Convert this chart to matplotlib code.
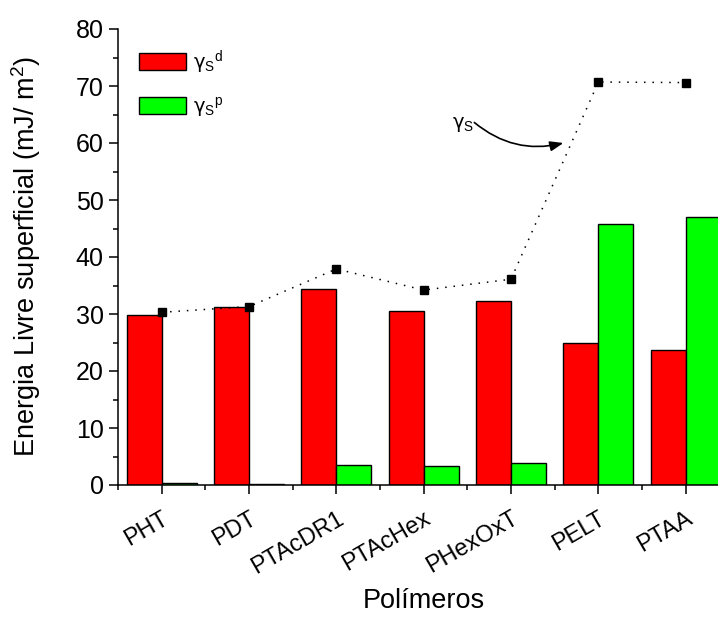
import matplotlib
matplotlib.use("Agg")
import matplotlib.pyplot as plt
from matplotlib.ticker import MultipleLocator, FixedLocator
import numpy as np

plt.rcParams['font.family'] = ['Liberation Sans', 'DejaVu Sans']
plt.rcParams['mathtext.fontset'] = 'custom'
plt.rcParams['mathtext.rm'] = 'Liberation Sans'
plt.rcParams['mathtext.it'] = 'Liberation Sans'

# Surface free energy components per polymer (mJ/m^2)
polimeros = ['PHT', 'PDT', 'PTAcDR1', 'PTAcHex', 'PHexOxT', 'PELT', 'PTAA']
gamma_d = [29.9, 31.2, 34.4, 30.6, 32.2, 24.9, 23.6]
gamma_p = [0.4, 0.1, 3.5, 3.4, 3.8, 45.8, 47.0]
gamma_total = [30.3, 31.3, 37.9, 34.2, 36.1, 70.7, 70.6]

x = np.arange(1, len(polimeros) + 1)
w = 0.4
W, H = 718, 617

fig = plt.figure(figsize=(W / 100, H / 100), dpi=100)
ax = fig.add_axes([118 / W, 132 / H, 600 / W, 456 / H])

ax.bar(x - w / 2, gamma_d, width=w, color='#ff0000', edgecolor='black',
       linewidth=1.0, label='γ$_{\\rm S}{}^{\\rm d}$')
ax.bar(x + w / 2, gamma_p, width=w, color='#00ff00', edgecolor='black',
       linewidth=1.0, label='γ$_{\\rm S}{}^{\\rm p}$')
ax.plot(x, gamma_total, color='black', linestyle=(0, (1, 4.5)), linewidth=1.1,
        marker='s', markersize=6, zorder=5, clip_on=False)

# Label and curved arrow pointing at the total surface energy line
ax.text(4.32, 63.3, 'γ$_{\\rm S}$', fontsize=14, va='center', ha='left',
        family=['DejaVu Sans'])
ax.annotate('', xy=(5.6, 60.0), xytext=(4.58, 63.6),
            arrowprops=dict(arrowstyle='-|>,head_length=0.8,head_width=0.3',
                            color='black', lw=1.2, shrinkA=0, shrinkB=0,
                            connectionstyle='arc3,rad=0.25'))

ax.set_xlim(0.5, 0.5 + 600 / 87.34)
ax.set_ylim(0, 80)
ax.yaxis.set_major_locator(MultipleLocator(10))
ax.yaxis.set_minor_locator(MultipleLocator(5))
ax.set_xticks(x)
ax.set_xticklabels(polimeros, rotation=30, ha='right', va='top',
                   rotation_mode='anchor')
ax.xaxis.set_minor_locator(FixedLocator(np.arange(0.5, 8, 1.0)))

ax.spines['top'].set_visible(False)
ax.spines['right'].set_visible(False)
for s in ('left', 'bottom'):
    ax.spines[s].set_linewidth(1.1)
ax.tick_params(axis='both', which='major', direction='out', length=6.2,
               width=1.1, labelsize=18)
ax.tick_params(axis='both', which='minor', direction='out', length=3.4, width=1.1)
ax.tick_params(axis='y', which='major', pad=4)
ax.tick_params(axis='x', which='major', pad=10, labelsize=17)

ax.set_ylabel('Energia Livre superficial (mJ/ m$^{\\rm 2}$)', fontsize=19.5)
ax.yaxis.set_label_coords((43 - 118) / 600, 0.5)
ax.set_xlabel('Polímeros', fontsize=19.5)
ax.xaxis.label.set_va('baseline')
ax.xaxis.set_label_coords((424 - 118) / 600, -(608 - 485) / 456)

leg = ax.legend(loc='upper left', frameon=False, prop={'size': 14},
                handlelength=2.42, handleheight=0.93, handletextpad=0.35,
                labelspacing=1.0, borderpad=0, borderaxespad=0,
                bbox_to_anchor=(139 / W, 1 - 48 / H),
                bbox_transform=fig.transFigure)
for t in leg.get_texts():
    t.set_family(['DejaVu Sans'])

fig.savefig('out.png', dpi=100)
